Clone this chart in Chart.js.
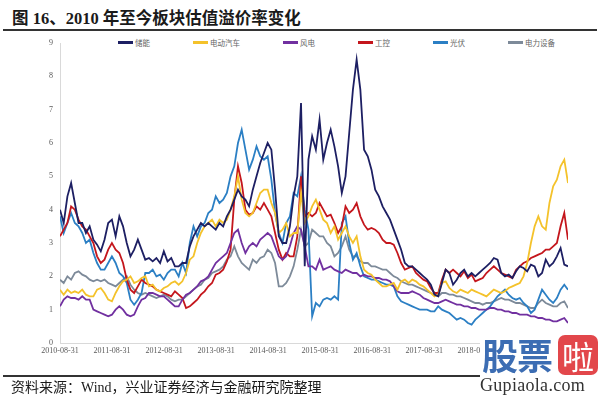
<!DOCTYPE html>
<html>
<head>
<meta charset="utf-8">
<script src="https://cdn.jsdelivr.net/npm/chart.js@4/dist/chart.umd.min.js"></script>
<style>
  body { margin: 0; width: 600px; height: 395px; overflow: hidden; background: #fff; position: relative;
         font-family: "Liberation Serif", "Noto Sans CJK SC", serif; }
  #title { position: absolute; left: 12px; top: 5px; font-size: 16.5px; font-weight: bold; color: #1a1a1a; white-space: nowrap; }
  #topRule { position: absolute; left: 3px; top: 29px; width: 594px; height: 1.5px; background: #333; }
  #legend { position: absolute; left: 118px; top: 36px; display: flex; gap: 43px; align-items: center;
            font-family: "Noto Sans CJK SC", sans-serif; font-size: 7.5px; color: #666; }
  #legend .item { display: flex; align-items: center; gap: 2px; height: 12px; }
  #legend .swatch { width: 15px; height: 3px; }
  #chart { position: absolute; left: 0; top: 0; }
  #bottomRule { position: absolute; left: 3px; top: 375px; width: 478px; height: 1.5px; background: #333; }
  #source { position: absolute; left: 11px; top: 376px; font-size: 14px; color: #1a1a1a; white-space: nowrap; }
  #logo { position: absolute; left: 480px; top: 330px; width: 120px; height: 65px; background: #fff; }
  #logo .gp { position: absolute; left: 2px; top: -2px; font-family: "Noto Sans CJK SC", sans-serif; font-weight: bold;
              font-size: 36px; color: #3c6db3; letter-spacing: -1px; }
  #logo .la { position: absolute; left: 78px; top: 5px; width: 40px; height: 40px; border-radius: 7px; background: #e2474b;
              color: #fff; font-family: "Noto Sans CJK SC", sans-serif; font-size: 32px; line-height: 40px; text-align: center; }
  #logo .url { position: absolute; left: 0; top: 45px; font-size: 18px; color: #333; letter-spacing: 0.3px; }
</style>
</head>
<body>
<div id="title">图 16、2010 年至今板块估值溢价率变化</div>
<div id="topRule"></div>
<div id="legend"></div>
<canvas id="chart" width="600" height="395"></canvas>
<div id="bottomRule"></div>
<div id="source">资料来源：Wind，兴业证券经济与金融研究院整理</div>
<div id="logo"><span class="gp">股票</span><span class="la">啦</span><div class="url">Gupiaola.com</div></div>
<script>
// series (evenly spaced samples from 2010-08-31 to mid 2020)
const seriesNames = ['储能', '电动汽车', '风电', '工控', '光伏', '电力设备'];
const seriesColors = ['#1d1f63', '#f4c22b', '#7130a0', '#c4161c', '#2b7fc4', '#7d8a99'];

const storage = [4.0,3.6,4.4,4.8,4.2,3.6,3.6,3.3,3.5,3.1,
  2.95,2.75,3.1,3.6,3.7,3.2,3.8,3.5,3.0,2.6,
  2.8,3.1,2.8,2.5,2.55,2.45,2.55,2.4,2.75,2.45,
  2.55,2.3,2.3,2.4,2.4,2.9,3.2,3.4,3.6,3.5,
  3.6,3.5,3.4,3.6,3.5,3.8,4.0,4.3,4.6,4.4,
  4.3,4.1,4.6,5.0,5.4,5.7,6.0,5.8,4.6,3.2,
  3.0,3.0,3.5,4.4,5.0,7.2,2.3,5.5,6.2,5.8,
  6.7,5.5,6.0,6.4,5.9,5.3,4.5,5.0,6.3,7.6,
  8.5,7.6,5.8,5.6,5.2,4.6,4.4,4.1,3.9,3.7,
  3.4,3.1,2.8,2.4,2.3,2.3,2.2,2.1,2.0,1.9,
  1.75,1.45,1.4,1.8,2.2,2.1,1.75,1.9,2.1,2.2,
  2.0,2.1,2.0,2.1,2.2,2.3,2.4,2.55,2.5,2.1,
  2.0,2.05,1.95,2.15,2.3,2.25,2.15,2.35,2.3,2.0,
  2.1,2.5,2.3,2.4,2.6,2.85,2.35,2.3];

const ev = [1.6,1.45,1.6,1.5,1.55,1.5,1.6,1.45,1.4,1.4,
  1.6,1.65,1.5,1.3,1.25,1.5,1.7,1.85,1.9,2.0,
  1.8,1.85,1.95,2.0,1.7,1.75,1.6,1.55,1.65,1.7,
  1.8,1.85,1.75,1.85,2.1,2.5,2.6,3.0,3.3,3.5,
  3.6,3.7,3.5,3.7,3.6,3.7,4.0,4.4,5.0,4.3,
  3.9,3.8,3.9,4.2,4.5,4.6,4.6,4.2,3.9,3.3,
  3.4,3.6,3.2,3.3,3.3,4.5,3.6,3.8,4.1,4.3,
  4.0,3.7,3.6,3.3,3.5,3.1,3.3,3.5,3.2,3.0,
  3.2,2.6,2.2,2.1,2.05,1.9,1.8,1.7,1.7,1.75,
  1.8,1.6,1.85,1.9,1.8,1.9,1.85,1.75,1.7,1.6,
  1.5,1.4,1.45,1.8,1.85,1.65,1.55,1.5,1.6,1.55,
  1.5,1.6,1.55,1.5,1.45,1.4,1.5,1.6,1.55,1.5,
  1.55,1.65,1.7,1.75,1.8,2.0,2.4,3.0,3.5,3.8,
  3.5,3.4,4.2,4.7,4.9,5.3,5.5,4.8];

const wind = [1.1,1.3,1.4,1.35,1.35,1.3,1.4,1.3,1.3,1.0,
  0.95,0.9,0.85,0.8,0.85,1.0,1.1,1.0,0.85,0.8,
  0.85,1.1,1.3,1.35,1.5,1.5,1.45,1.4,1.4,1.3,
  1.2,1.1,1.1,1.3,1.45,1.5,1.6,1.7,1.85,1.9,
  2.0,2.2,2.4,2.5,2.6,2.7,3.0,3.3,3.4,3.0,
  2.7,2.9,3.0,2.9,3.1,3.2,3.3,3.2,2.9,2.6,
  2.5,2.6,2.9,3.3,3.5,3.4,2.9,2.3,2.3,2.2,
  2.5,2.2,2.25,2.3,2.2,2.15,2.1,2.2,2.15,2.1,
  2.1,2.0,2.05,2.0,2.0,1.95,1.95,1.9,1.9,1.85,
  1.7,1.55,1.5,1.5,1.5,1.55,1.5,1.45,1.35,1.3,
  1.25,1.2,1.2,1.25,1.3,1.25,1.2,1.15,1.15,1.1,
  1.1,1.05,1.05,1.0,1.0,1.0,1.05,1.05,1.0,1.0,
  0.95,0.95,0.9,0.9,0.85,0.85,0.85,0.8,0.8,0.75,
  0.75,0.7,0.7,0.65,0.65,0.7,0.75,0.6];

const control = [3.2,3.4,3.6,4.1,4.0,3.7,3.5,3.4,3.2,3.0,
  2.6,2.4,2.5,2.8,3.0,2.8,2.7,2.4,1.9,1.6,
  1.5,1.7,1.9,1.8,1.75,1.7,1.6,1.55,1.5,1.45,
  1.4,1.55,1.45,1.35,1.05,1.1,1.2,1.3,1.45,1.55,
  1.7,1.8,2.05,2.1,2.2,2.45,2.8,4.3,5.3,4.8,
  4.0,3.85,3.9,4.1,4.0,4.2,4.0,3.8,3.3,2.8,
  2.5,2.7,2.6,2.6,3.2,5.0,3.8,3.9,3.8,3.9,
  4.2,4.0,3.8,3.85,3.6,3.3,3.5,4.1,3.9,4.0,
  4.2,3.8,3.55,3.4,3.45,3.4,3.3,3.1,3.0,3.0,
  2.95,2.7,2.4,2.2,2.25,2.3,2.1,2.0,1.9,1.85,
  1.65,1.5,1.5,1.9,2.2,2.1,2.2,2.1,2.0,2.15,
  1.95,2.05,1.85,1.9,1.95,2.1,2.2,2.3,2.2,2.1,
  2.05,2.0,1.95,2.2,2.3,2.4,2.45,2.55,2.6,2.65,
  2.7,2.8,2.8,2.9,3.0,3.5,3.9,3.1];

const solar = [3.8,3.3,3.6,3.9,3.6,3.5,3.3,3.0,3.1,2.7,
  2.4,2.2,2.2,2.4,2.6,2.4,2.1,2.0,1.8,1.3,
  1.15,1.3,1.5,2.1,2.1,2.2,2.0,2.05,1.9,2.1,
  2.2,2.2,2.0,2.4,2.1,3.0,3.5,3.2,3.5,3.6,
  3.9,4.0,4.4,4.2,4.3,4.5,5.0,5.3,6.0,6.4,
  5.8,5.2,5.5,5.9,5.6,5.5,5.6,4.9,3.9,3.3,
  3.0,3.6,3.8,4.5,4.4,5.0,4.0,3.4,0.8,1.2,
  1.1,1.3,1.35,1.3,1.4,1.3,3.6,3.8,3.0,2.5,
  2.7,2.3,2.0,1.95,1.9,1.9,1.85,1.8,1.75,1.75,
  1.7,1.4,1.25,1.2,1.15,1.1,1.05,1.0,1.0,1.0,
  0.95,0.95,1.1,1.0,0.95,0.9,0.8,0.7,0.75,0.7,
  0.6,0.55,0.7,0.8,0.9,1.0,1.1,1.25,1.4,1.5,
  1.6,1.45,1.35,1.3,1.35,1.2,1.1,0.9,1.0,1.3,
  1.6,1.45,1.3,1.2,1.35,1.6,1.75,1.6];

const powerEquip = [1.9,1.8,2.0,1.9,2.1,2.15,2.05,2.0,1.9,1.85,
  1.9,1.85,1.9,1.8,1.75,1.7,1.8,1.9,2.0,1.75,
  1.6,1.5,1.45,1.5,1.45,1.4,1.35,1.4,1.45,1.4,
  1.3,1.25,1.3,1.3,1.4,1.5,1.6,1.7,1.75,1.9,
  1.95,2.1,2.15,2.2,2.3,2.5,2.6,2.9,2.6,2.4,
  2.3,2.2,2.5,2.4,2.55,2.6,2.8,2.7,2.4,1.7,
  1.7,1.8,2.0,2.3,2.8,3.4,2.9,3.0,3.4,3.3,
  3.2,3.2,3.0,2.9,2.6,2.7,2.9,3.2,2.8,2.6,
  2.6,2.45,2.4,2.4,2.3,2.3,2.25,2.2,2.2,2.1,
  2.0,1.95,1.85,1.8,1.75,1.75,1.7,1.65,1.6,1.55,
  1.5,1.45,1.4,1.5,1.5,1.45,1.45,1.4,1.4,1.35,
  1.3,1.25,1.2,1.2,1.15,1.2,1.2,1.25,1.3,1.35,
  1.3,1.3,1.25,1.2,1.2,1.15,1.1,1.05,1.05,1.2,
  1.3,1.2,1.15,1.1,1.1,1.2,1.25,1.05];

const seriesValues = [storage, ev, wind, control, solar, powerEquip];

// time axis
const startDate = '2010-08-31';
const endDate = '2020-06-05';
const tickLabels = ['2010-08-31', '2011-08-31', '2012-08-31', '2013-08-31', '2014-08-31',
  '2015-08-31', '2016-08-31', '2017-08-31', '2018-08-31', '2019-08-31'];
const yTicks = [0, 1, 2, 3, 4, 5, 6, 7, 8, 9];

const DAY = 86400000;
const dayOf = s => (Date.parse(s) - Date.parse(startDate)) / DAY;
const spanDays = dayOf(endDate);
const tickDays = tickLabels.map(dayOf);
// samples are evenly spaced between start and end
const sampleDay = i => i * spanDays / (storage.length - 1);

document.addEventListener('DOMContentLoaded', () => {
    buildLegend();
    drawChart();
});

function buildLegend() {
    const box = document.getElementById('legend');
    seriesNames.forEach((name, k) => {
        const item = document.createElement('div');
        item.className = 'item';
        item.innerHTML = '<span class="swatch" style="background:' + seriesColors[k] + '"></span><span>' + name + '</span>';
        box.appendChild(item);
    });
}

function drawChart() {
    const tickFont = { family: '"Liberation Serif", serif', size: 8 };

    new Chart(document.getElementById('chart'), {
        type: 'line',
        data: {
            datasets: seriesNames.map((name, k) => ({
                label: name,
                data: seriesValues[k].map((v, i) => ({ x: sampleDay(i), y: v })),
                borderColor: seriesColors[k],
                backgroundColor: seriesColors[k],
                borderWidth: 1.8,
                pointRadius: 0,
                tension: 0,
                fill: false
            }))
        },
        options: {
            responsive: false,
            animation: false,
            events: [],
            layout: { padding: { left: 44, right: 32, top: 43, bottom: 38 } },
            plugins: { legend: { display: false }, tooltip: { enabled: false } },
            scales: {
                x: {
                    type: 'linear',
                    min: 0,
                    max: spanDays,
                    grid: { display: false, drawTicks: false },
                    border: { display: true, color: '#d9d9d9', width: 1 },
                    afterBuildTicks: scale => { scale.ticks = tickDays.map(v => ({ value: v })); },
                    afterFit: scale => { scale.height = 14; },
                    ticks: {
                        autoSkip: false,
                        maxRotation: 0,
                        padding: 3,
                        color: '#595959',
                        font: tickFont,
                        callback: (value, index) => tickLabels[index]
                    }
                },
                y: {
                    min: 0,
                    max: 9,
                    grid: { display: false, drawTicks: false },
                    border: { display: true, color: '#d9d9d9', width: 1 },
                    afterBuildTicks: scale => { scale.ticks = yTicks.map(v => ({ value: v })); },
                    afterFit: scale => { scale.width = 16; },
                    ticks: { padding: 7, color: '#595959', font: tickFont }
                }
            }
        }
    });
}
</script>
</body>
</html>
